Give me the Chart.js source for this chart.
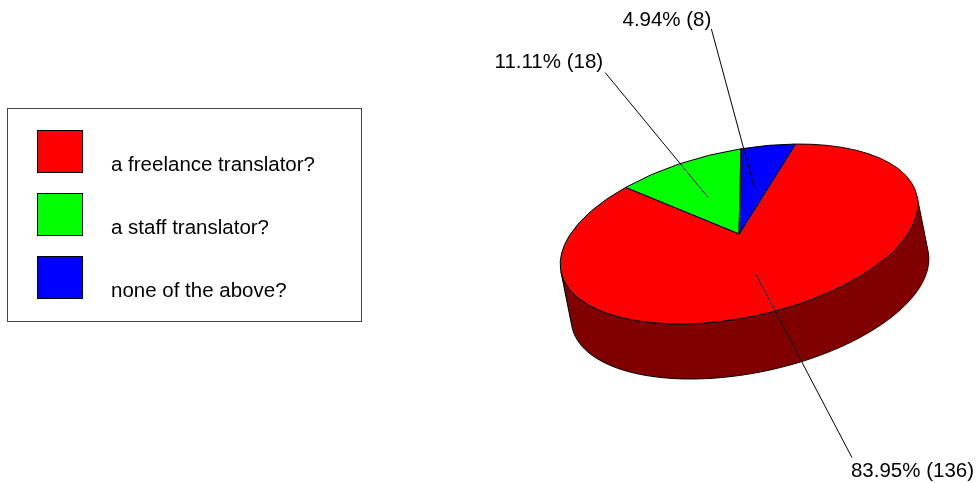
<!DOCTYPE html>
<html>
<head>
<meta charset="utf-8">
<title>Translator survey</title>
<script src="https://cdn.jsdelivr.net/npm/chart.js@4.4.1/dist/chart.umd.min.js"></script>
<style>
  html, body { margin: 0; padding: 0; background: #fff; }
  #wrap { width: 979px; height: 483px; position: relative; }
</style>
</head>
<body>
<div id="wrap"><canvas id="pieChart"></canvas></div>
<script>
const answerLabels = ['a freelance translator?', 'a staff translator?', 'none of the above?'];
const answerCounts = [136, 18, 8];
const sliceColors = ['#ff0000', '#00ff00', '#0000ff'];
const sideColors = ['#800000', '#008000', '#000080'];

// where each leader line ends (relative to the slice anchor) and how the text hangs off it
const labelLayout = [
  { dx: 96, dy: 183, align: 'left', tx: -1, ty: 19 },
  { dx: -103, dy: -125, align: 'right', tx: -2, ty: -5 },
  { dx: -43, dy: -159, align: 'right', tx: 0, ty: -3 }
];

const TILT = -12.1 * Math.PI / 180;
const SQUASH = 0.458;
const DEPTH_X = 11;
const DEPTH_Y = 55;
const FONT = '20.5px "Liberation Sans", Arial, sans-serif';

// circle (chart space) -> tilted ellipse (screen)
function project(cx, cy, r, a) {
  const u = r * Math.cos(a);
  const v = r * Math.sin(a) * SQUASH;
  return {
    x: cx + u * Math.cos(TILT) - v * Math.sin(TILT),
    y: cy + u * Math.sin(TILT) + v * Math.cos(TILT)
  };
}

function applyTilt(ctx, cx, cy) {
  ctx.translate(cx, cy);
  ctx.rotate(TILT);
  ctx.scale(1, SQUASH);
  ctx.translate(-cx, -cy);
}

// range of angles whose wall faces the extrusion direction
function visibleRange() {
  const rx = DEPTH_X * Math.cos(TILT) + DEPTH_Y * Math.sin(TILT);
  const ry = (-DEPTH_X * Math.sin(TILT) + DEPTH_Y * Math.cos(TILT)) / SQUASH;
  const face = Math.atan2(ry, rx);
  return [face - Math.PI / 2, face + Math.PI / 2];
}

function arcProps(arc) {
  return arc.getProps(['x', 'y', 'startAngle', 'endAngle', 'outerRadius'], true);
}

const pie3d = {
  id: 'pie3d',
  beforeDatasetsDraw(chart) {
    const ctx = chart.ctx;
    const meta = chart.getDatasetMeta(0);
    const [vis0, vis1] = visibleRange();

    // side walls
    meta.data.forEach((arc, i) => {
      const { x, y, startAngle, endAngle, outerRadius } = arcProps(arc);
      for (let k = -2; k <= 2; k++) {
        const lo = Math.max(startAngle, vis0 + 2 * Math.PI * k);
        const hi = Math.min(endAngle, vis1 + 2 * Math.PI * k);
        if (hi <= lo) continue;
        const steps = Math.max(2, Math.ceil((hi - lo) / 0.02));
        const rim = [];
        for (let s = 0; s <= steps; s++) {
          rim.push(project(x, y, outerRadius, lo + (hi - lo) * s / steps));
        }
        ctx.beginPath();
        rim.forEach((p, j) => j ? ctx.lineTo(p.x, p.y) : ctx.moveTo(p.x, p.y));
        for (let j = rim.length - 1; j >= 0; j--) {
          ctx.lineTo(rim[j].x + DEPTH_X, rim[j].y + DEPTH_Y);
        }
        ctx.closePath();
        ctx.fillStyle = sideColors[i];
        ctx.fill();
        ctx.strokeStyle = '#000';
        ctx.lineWidth = 1;
        ctx.stroke();
      }
    });

    const c = meta.data[0];
    ctx.save();
    applyTilt(ctx, c.x, c.y);
  },
  afterDatasetsDraw(chart) {
    const ctx = chart.ctx;
    ctx.restore();
    const meta = chart.getDatasetMeta(0);

    // slice outlines, kept at 1px after the squash
    meta.data.forEach(arc => {
      const { x, y, startAngle, endAngle, outerRadius } = arcProps(arc);
      ctx.save();
      applyTilt(ctx, x, y);
      ctx.beginPath();
      ctx.moveTo(x, y);
      ctx.arc(x, y, outerRadius, startAngle, endAngle);
      ctx.closePath();
      ctx.restore();
      ctx.strokeStyle = '#000';
      ctx.lineWidth = 1;
      ctx.stroke();
    });
  },
  afterDraw(chart) {
    const ctx = chart.ctx;
    const meta = chart.getDatasetMeta(0);
    const total = answerCounts.reduce((a, b) => a + b, 0);

    ctx.save();
    ctx.font = FONT;
    ctx.textBaseline = 'alphabetic';

    // percentage labels with leader lines
    meta.data.forEach((arc, i) => {
      const { x, y, startAngle, endAngle, outerRadius } = arcProps(arc);
      const mid = (startAngle + endAngle) / 2;
      const anchor = project(x, y, outerRadius * 0.52, mid);
      const L = labelLayout[i];
      const ex = anchor.x + L.dx;
      const ey = anchor.y + L.dy;
      ctx.beginPath();
      ctx.moveTo(anchor.x, anchor.y);
      ctx.lineTo(ex, ey);
      ctx.strokeStyle = '#000';
      ctx.lineWidth = 1;
      ctx.stroke();
      const pct = (answerCounts[i] / total * 100).toFixed(2);
      ctx.fillStyle = '#000';
      ctx.textAlign = L.align;
      ctx.fillText(`${pct}% (${answerCounts[i]})`, ex + L.tx, ey + L.ty);
    });

    // legend box
    ctx.strokeStyle = '#444';
    ctx.lineWidth = 1;
    ctx.strokeRect(7.5, 108.5, 354, 213);
    ctx.textAlign = 'left';
    answerLabels.forEach((label, i) => {
      const top = 130 + i * 63;
      ctx.fillStyle = sliceColors[i];
      ctx.fillRect(37, top, 45, 42);
      ctx.strokeStyle = '#000';
      ctx.strokeRect(37.5, top + 0.5, 45, 42);
      ctx.fillStyle = '#000';
      ctx.fillText(label, 111, 171 + i * 63);
    });
    ctx.restore();
  }
};

new Chart(document.getElementById('pieChart'), {
  type: 'pie',
  data: {
    labels: answerLabels,
    datasets: [{
      data: answerCounts,
      backgroundColor: sliceColors,
      borderWidth: 0,
      clip: false
    }]
  },
  options: {
    responsive: true,
    maintainAspectRatio: false,
    animation: false,
    rotation: 24,
    radius: 182,
    layout: { padding: { left: 560, right: 61, top: 40, bottom: 55 } },
    plugins: {
      legend: { display: false },
      tooltip: { enabled: false }
    }
  },
  plugins: [pie3d]
});
</script>
</body>
</html>
